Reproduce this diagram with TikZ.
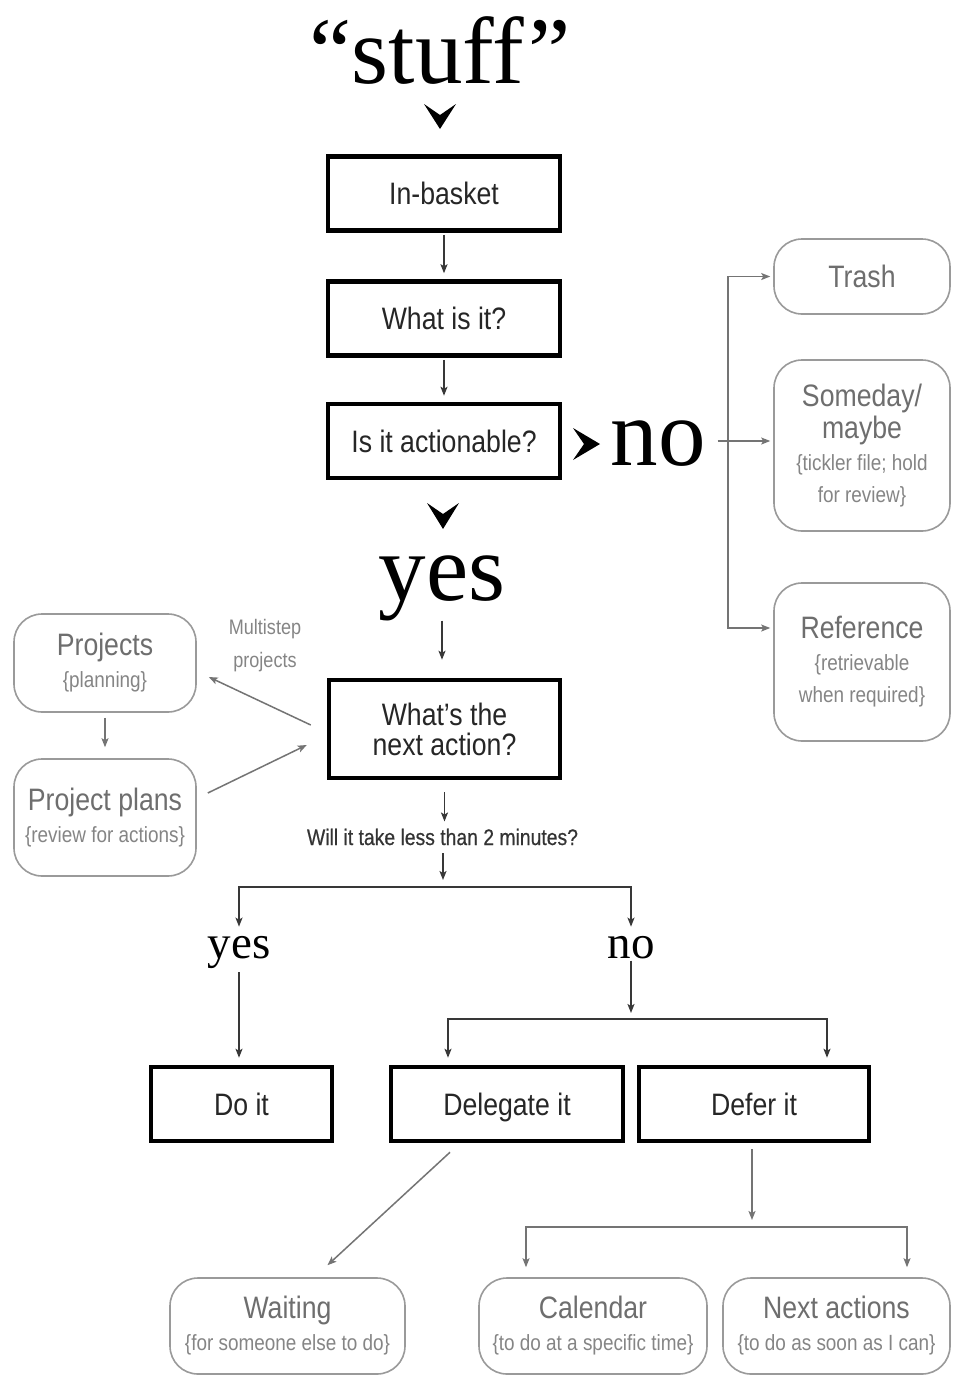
\documentclass[tikz,border=0pt]{standalone}
\usepackage{fontspec}
\setmainfont{Liberation Serif}
\newfontfamily\cond[FakeStretch=0.86]{Liberation Sans}
\newfontfamily\condb[FakeStretch=0.86,FakeBold=0.5]{Liberation Sans}
\usetikzlibrary{arrows.meta,calc}
\definecolor{boxtext}{HTML}{262626}
\definecolor{gboxc}{HTML}{9A9A9A}
\definecolor{gtitle}{HTML}{6E6E6E}
\definecolor{gsub}{HTML}{858585}
\definecolor{darkline}{HTML}{383838}
\definecolor{grayline}{HTML}{747474}
\definecolor{willc}{HTML}{333333}
\newcommand\subtxt[1]{{\fontsize{22}{32}\selectfont\color{gsub}#1}}
\begin{document}
\begin{tikzpicture}[x=1pt,y=-1pt,
  bbase/.style={draw=black,line width=4.5pt,fill=white,text=boxtext,inner sep=0pt,align=center,font=\cond\fontsize{31}{30}\selectfont},
  blackbox/.style={bbase,text height=22.5pt,text depth=0pt,minimum height=74pt},
  gbox/.style={draw=gboxc,line width=1.6pt,rounded corners=28pt,fill=white,text=gtitle,inner sep=0pt,align=center,font=\cond\fontsize{31}{32}\selectfont},
  bigserif/.style={inner sep=0pt,text=black,font=\fontsize{95}{95}\selectfont},
  midserif/.style={inner sep=0pt,text=black,font=\fontsize{47}{47}\selectfont},
  darrow/.style={draw=darkline,line width=1.6pt,-{Stealth[length=9pt,width=7pt,inset=2pt]}},
  darrows/.style={draw=darkline,line width=1.6pt,{Stealth[length=9pt,width=7pt,inset=2pt]}-{Stealth[length=9pt,width=7pt,inset=2pt]}},
  garrow/.style={draw=grayline,line width=1.5pt,-{Stealth[length=9pt,width=7pt,inset=2pt]}},
  garrows/.style={draw=grayline,line width=1.5pt,{Stealth[length=9pt,width=7pt,inset=2pt]}-{Stealth[length=9pt,width=7pt,inset=2pt]}},
  chev/.style={fill=black,draw=none}
]
\useasboundingbox (0,0) rectangle (953,1376);
\fill[white] (0,0) rectangle (953,1376);

% main column
\node[bigserif,anchor=base] (stuff) at (440,83) {“stuff\kern4pt”};
\node[blackbox,minimum width=232pt] (inbasket) at (444,193.5) {In-basket};
\node[blackbox,minimum width=232pt] (whatis) at (444,318.5) {What is it?};
\node[blackbox,minimum width=232pt] (actionable) at (444,441) {Is it actionable?};
\node[bigserif,anchor=base] (no) at (658,465) {no};
\node[bigserif,anchor=base] (yes) at (442,600) {yes};
\node[bbase,minimum width=231pt,minimum height=98pt] (nextaction) at (444.5,729) {What’s the\\next action?};

% not actionable
\node[gbox,minimum width=176pt,minimum height=75pt] (trash) at (862,276.5) {Trash};
\node[gbox,minimum width=176pt,minimum height=171pt] (someday) at (862,445.5) {Someday/\\maybe\\\subtxt{\{tickler file; hold}\\\subtxt{for review\}}};
\node[gbox,minimum width=176pt,minimum height=158pt] (reference) at (862,662) {Reference\\\subtxt{\{retrievable}\\\subtxt{when required\}}};

% projects
\node[gbox,minimum width=182pt,minimum height=98pt] (projects) at (105,663) {Projects\\\subtxt{\{planning\}}};
\node[gbox,minimum width=182pt,minimum height=117pt] (projplans) at (105,817.5) {Project plans\\\subtxt{\{review for actions\}}};
\node[inner sep=0pt,align=center,text=gsub,font=\cond\fontsize{21}{33}\selectfont] (multistep) at (265,646) {Multistep\\projects};

% two minutes
\node[inner sep=0pt,anchor=base,text=willc,font=\condb\fontsize{22.5}{22.5}\selectfont] (will) at (442.5,845) {Will it take less than 2 minutes?};
\node[midserif,anchor=base] (yes2) at (239,958) {yes};
\node[midserif,anchor=base] (no2) at (631,958) {no};
\node[blackbox,minimum width=181pt] (doit) at (241.5,1104) {Do it};
\node[blackbox,minimum width=232pt] (delegate) at (507,1104) {Delegate it};
\node[blackbox,minimum width=230pt] (defer) at (754,1104) {Defer it};

% bottom boxes
\node[gbox,minimum width=235pt,minimum height=96pt] (waiting) at (287.5,1326) {Waiting\\\subtxt{\{for someone else to do\}}};
\node[gbox,minimum width=228pt,minimum height=96pt] (calendar) at (593,1326) {Calendar\\\subtxt{\{to do at a specific time\}}};
\node[gbox,minimum width=227pt,minimum height=96pt] (nextactions) at (836.5,1326) {Next actions\\\subtxt{\{to do as soon as I can\}}};

% chevrons
\fill[chev] (424,104) -- (440,115) -- (456,104) -- (440,129) -- cycle;
\fill[chev] (427,503) -- (443,514) -- (459,503) -- (443,529) -- cycle;
\fill[chev] (573,428) -- (584,444) -- (573,460) -- (600,444) -- cycle;

% main connectors
\draw[darrow,shorten <=2pt,shorten >=6pt] (inbasket) -- (whatis);
\draw[darrow,shorten <=2pt,shorten >=6pt] (whatis) -- (actionable);
\draw[darrow,shorten >=18pt] (yes.south) -- (yes.south |- nextaction.north);
\draw[darrow,shorten <=12pt,shorten >=7pt] (nextaction.south) -- (nextaction.south |- will.north);
\coordinate (s1) at (443,887);
\draw[darrow,shorten <=8pt,shorten >=7pt] (will.south -| s1) -- (s1);
\draw[darrows,shorten <=9pt,shorten >=9pt] (yes2.north) |- (s1) -| (no2.north);
\draw[darrow,shorten <=4pt,shorten >=7pt] (yes2.south) -- (yes2.south |- doit.north);
\coordinate (s2) at (631,1019);
\draw[darrow,shorten <=2pt,shorten >=6pt] (no2.south) -- (s2);
\coordinate (s2l) at (448,1019);
\coordinate (s2r) at (827,1019);
\draw[darrows,shorten <=7pt,shorten >=7pt] (s2l |- delegate.north) -- (s2l) -- (s2r) -- (s2r |- defer.north);

% defer / delegate
\coordinate (s3) at (752,1227);
\draw[garrow,shorten <=6pt,shorten >=7pt] (s3 |- defer.south) -- (s3);
\coordinate (s3l) at (526,1227);
\coordinate (s3r) at (907,1227);
\draw[garrows,shorten <=10pt,shorten >=10pt] (s3l |- calendar.north) -- (s3l) -- (s3r) -- (s3r |- nextactions.north);
\draw[garrow] ($(delegate.south)+(-57,9)$) -- ($(waiting.north)+(40,-12)$);

% projects
\draw[garrow,shorten <=5pt,shorten >=11pt] (projects) -- (projplans);
\draw[garrow] ($(nextaction.west)+(-16,-4)$) -- ($(projects.east)+(12,14)$);
\draw[garrow] ($(projplans.east)+(11,-24.5)$) -- ($(nextaction.west)+(-20,16)$);

% not actionable
\coordinate (nobr) at (728,441);
\draw[garrow,shorten >=3pt] ($(no.east |- nobr)+(12,0)$) -- (nobr -| someday.west);
\coordinate (tbr) at (728,276.5);
\coordinate (rbr) at (728,628);
\draw[garrows,shorten <=3pt,shorten >=3pt] (tbr -| trash.west) -- (tbr) -- (rbr) -- (rbr -| reference.west);
\end{tikzpicture}
\end{document}
